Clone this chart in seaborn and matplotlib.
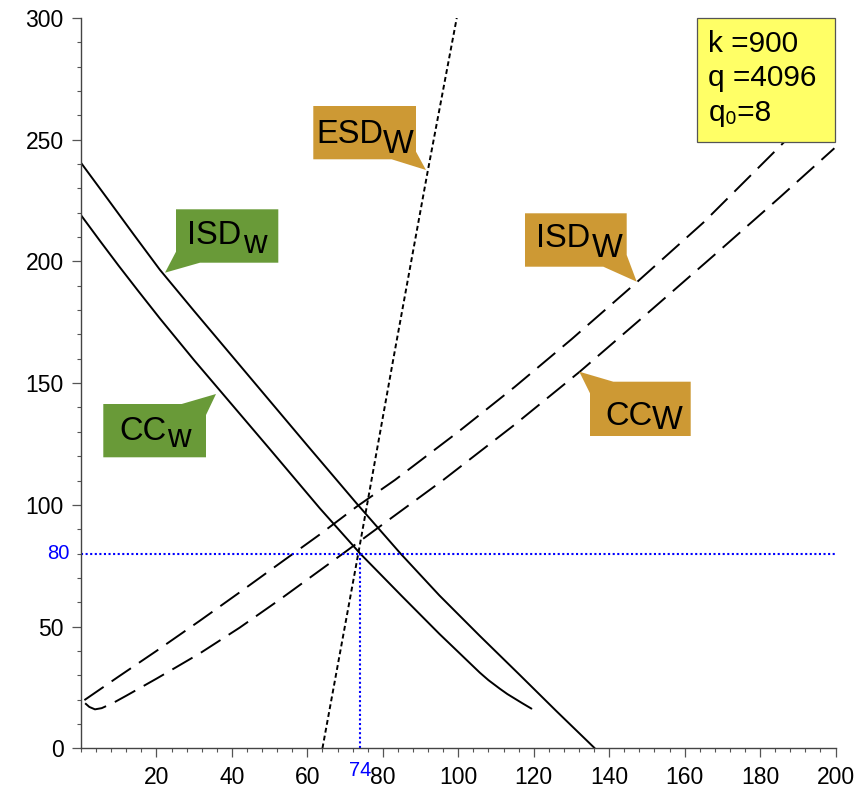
import matplotlib
matplotlib.use("Agg")
import matplotlib.pyplot as plt
import seaborn as sns
from matplotlib.patches import Polygon, Rectangle
from matplotlib.ticker import MultipleLocator

# ---------------- data ----------------
isd_w_x = [0, 7, 14, 20.9, 30, 40, 50, 60, 73, 84.7, 95, 105.7, 116, 126, 136.2]
isd_w_y = [240.5, 225.8, 211, 196.6, 179.6, 161.2, 142.8, 124.4, 100.7, 80, 62.8, 46.2, 30.6, 15.3, 0]

cc_w_x = [0, 5, 10, 15, 20.9, 30, 40, 50, 63.3, 74, 85, 95, 105.7, 108, 111, 113, 115, 117, 119.4]
cc_w_y = [219, 208.5, 198.2, 188.2, 176.6, 159.4, 141.2, 123.0, 98.6, 80, 62.6, 47, 31.1, 28, 24.5, 22.3, 20.4, 18.5, 16.3]

esd_W_x = [64.0, 73.5, 82.8, 91.9, 99.6]
esd_W_y = [0, 80, 160, 237, 300]

isd_W_x = [0.9, 10, 20, 31.5, 42, 52.7, 63, 73.1, 83.2, 100, 115, 130, 147.5, 165, 185.2, 200]
isd_W_y = [19.8, 29.5, 40, 52.4, 64, 76, 87.5, 99.3, 110.2, 130, 148.5, 168, 191.7, 216, 247.2, 270]

cc_W_x = [1.1, 2.2, 3.7, 5.5, 8.6, 12, 16, 20, 25, 31.5, 42, 52.7, 69.1, 82, 96, 115, 132.2, 150, 170, 185, 199.7]
cc_W_y = [18.5, 17.0, 16.0, 16.5, 18.7, 21.6, 25.1, 28.6, 33.1, 39.0, 49.5, 61.1, 79.6, 94.3, 110.2, 133, 154.7, 178.5, 205.5, 226, 246.5]

eq_x = 74
eq_y = 80

x_ticks = [20, 40, 60, 80, 100, 120, 140, 160, 180, 200]
y_ticks = [0, 50, 100, 150, 200, 250, 300]

params = ["k =900", "q =4096", "q\u2080=8"]

# ---------------- style ----------------
sns.set_theme(style="ticks")
plt.rcParams["font.family"] = ["Liberation Sans", "DejaVu Sans"]
plt.rcParams["text.color"] = "black"

W, H = 866, 794
fig = plt.figure(figsize=(W / 100, H / 100), dpi=100)
ax = fig.add_axes([81 / W, 1 - 748.3 / H, (835.5 - 81) / W, (748.3 - 18) / H])

line_kw = dict(color="black", linewidth=1.4, sort=False, estimator=None)
sns.lineplot(x=isd_w_x, y=isd_w_y, ax=ax, **line_kw)
sns.lineplot(x=cc_w_x, y=cc_w_y, ax=ax, **line_kw)
sns.lineplot(x=esd_W_x, y=esd_W_y, ax=ax, linestyle=(0, (2.5, 1.6)), **line_kw)
sns.lineplot(x=isd_W_x, y=isd_W_y, ax=ax, linestyle=(0, (12, 5)), **line_kw)
sns.lineplot(x=cc_W_x, y=cc_W_y, ax=ax, linestyle=(0, (12, 5)), **line_kw)

# blue guide lines
sns.lineplot(x=[0, 200], y=[eq_y, eq_y], ax=ax, color="blue", linewidth=1.5,
             linestyle=(0, (1, 1.2)), sort=False, estimator=None)
sns.lineplot(x=[eq_x, eq_x], y=[0, eq_y], ax=ax, color="blue", linewidth=1.5,
             linestyle=(0, (1, 1.2)), sort=False, estimator=None)

ax.set_xlim(0, 200)
ax.set_ylim(0, 300)
ax.set_xticks(x_ticks)
ax.set_yticks(y_ticks)
ax.xaxis.set_minor_locator(MultipleLocator(4))
ax.yaxis.set_minor_locator(MultipleLocator(10))
sns.despine(ax=ax)
for s in ["left", "bottom"]:
    ax.spines[s].set_color("#444444")
    ax.spines[s].set_linewidth(1.0)
ax.tick_params(which="major", length=6.5, width=0.9, color="#555555",
               labelsize=16.5, labelcolor="black")
ax.tick_params(which="minor", length=3.2, width=0.8, color="#555555")
ax.tick_params(axis="x", pad=6)
ax.tick_params(axis="y", pad=6)
ax.set_xlabel("")
ax.set_ylabel("")

ax.annotate(str(eq_y), xy=(0, eq_y), xytext=(-8.4, 0), textcoords="offset points",
            ha="right", va="center", color="blue", fontsize=14.5, annotation_clip=False)
ax.annotate(str(eq_x), xy=(eq_x, 0), xytext=(0, -9.0), textcoords="offset points",
            ha="center", va="top", color="blue", fontsize=14.5, annotation_clip=False)


def fp(px, py):
    return (px / W, 1 - py / H)


def callout(points, color):
    poly = Polygon([fp(*p) for p in points], closed=True, transform=fig.transFigure,
                   facecolor=color, edgecolor="none", zorder=5)
    fig.add_artist(poly)


def ftext(px, py, s, size=23.5):
    fig.text(*fp(px, py), s, fontsize=size, ha="left", va="baseline", zorder=6,
             color="black")


GREEN = "#699A38"
GOLD = "#CD9934"

# ISD_w (green)
callout([(176, 209.3), (278.3, 209.3), (278.3, 262.7), (200, 262.7), (165, 272.7), (176, 251.7)], GREEN)
ftext(186.7, 244.3, "ISD")
ftext(243.3, 253.3, "w")

# CC_w (green)
callout([(103.3, 404), (181.7, 404), (216, 394), (206, 415), (206, 457.3), (103.3, 457.3)], GREEN)
ftext(119.3, 440, "CC")
ftext(167.3, 446.7, "w")

# ESD_W (gold)
callout([(313.3, 106), (416, 106), (416, 151.7), (426, 170), (391.7, 159.3), (313.3, 159.3)], GOLD)
ftext(316.7, 143.3, "ESD")
ftext(383.3, 152.7, "W")

# ISD_W (gold)
callout([(525, 213.3), (626.7, 213.3), (626.7, 255), (636.7, 281.7), (603.3, 266.7), (525, 266.7)], GOLD)
ftext(536, 246.7, "ISD")
ftext(591.7, 256.7, "W")

# CC_W (gold)
callout([(579.3, 371.7), (613.3, 381.7), (690.7, 381.7), (690.7, 436), (590, 436), (590, 393.3)], GOLD)
ftext(605, 425, "CC")
ftext(651.7, 429.3, "W")

# parameter box
x0, y0 = fp(696.7, 141.7)
x1, y1 = fp(835, 18.3)
fig.add_artist(Rectangle((x0, y0), x1 - x0, y1 - y0, transform=fig.transFigure,
                         facecolor="#FFFF66", edgecolor="#555555", linewidth=0.9, zorder=5))
ftext(708.3, 51.7, params[0], size=21.5)
ftext(708.3, 85.5, params[1], size=21.5)
ftext(708.3, 121, params[2], size=21.5)

fig.savefig("out.png", dpi=100)
